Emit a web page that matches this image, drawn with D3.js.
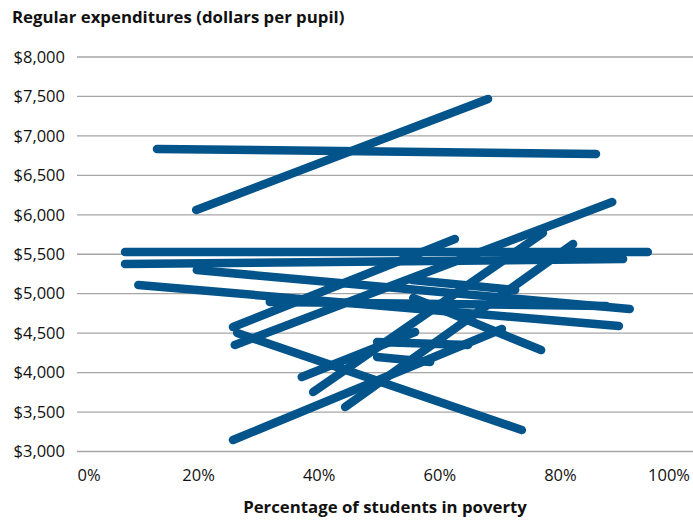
<!DOCTYPE html>
<html>
<head>
<meta charset="utf-8">
<script src="https://cdn.jsdelivr.net/npm/d3@7"></script>
<style>
  body { margin: 0; background: #fff; }
  text { font-family: "Open Sans", "Noto Sans", sans-serif; fill: #111; }
</style>
</head>
<body>
<div id="chart"></div>
<script>
// each segment: poverty % and spending at start and end
var startPct = [13.1, 19.6, 7.8, 7.8, 19.7, 10.0, 31.8, 25.7, 26.0, 26.4, 55.4, 55.6, 37.1, 39.0, 44.3, 49.6, 49.6, 25.7];
var startVal = [6834, 6061, 5529, 5376, 5300, 5110, 4895, 4578, 4350, 4502, 5174, 4945, 3944, 3754, 3564, 4388, 4198, 3146];
var endPct   = [85.9, 68.0, 94.5, 90.4, 91.5, 89.7, 87.6, 62.5, 88.6, 73.6, 72.5, 76.8, 55.9, 77.1, 82.1, 64.7, 58.4, 70.3];
var endVal   = [6771, 7468, 5529, 5440, 4806, 4590, 4844, 5693, 6162, 3272, 5047, 4286, 4515, 5769, 5630, 4350, 4134, 4553];

var yTicks = [3000, 3500, 4000, 4500, 5000, 5500, 6000, 6500, 7000, 7500, 8000];
var xTicks = [0, 20, 40, 60, 80, 100];

var width = 693, height = 522;

var svg = d3.select("#chart")
  .append("svg")
  .attr("width", width)
  .attr("height", height);

var x = d3.scaleLinear()
  .domain([0, 100])
  .range([78, 681]);

var y = d3.scaleLinear()
  .domain([3000, 8000])
  .range([451.5, 57]);

// gridlines
svg.selectAll(".grid")
  .data(yTicks)
  .enter()
  .append("line")
    .attr("x1", 77)
    .attr("x2", width)
    .attr("y1", function(d) { return y(d); })
    .attr("y2", function(d) { return y(d); })
    .attr("stroke", "#a6a6a6")
    .attr("stroke-width", 1.3);

// y labels
svg.selectAll(".ylab")
  .data(yTicks)
  .enter()
  .append("text")
    .attr("x", 65)
    .attr("y", function(d) { return y(d); })
    .attr("dy", "0.35em")
    .attr("text-anchor", "end")
    .style("font-size", "16.5px")
    .text(function(d) { return "$" + d3.format(",")(d); });

// x labels (end ones nudged in like the original)
svg.selectAll(".xlab")
  .data(xTicks)
  .enter()
  .append("text")
    .attr("x", function(d) {
      if (d == 0) return x(d) + 11;
      if (d == 100) return x(d) - 12;
      return x(d);
    })
    .attr("y", 481)
    .attr("text-anchor", "middle")
    .style("font-size", "16.5px")
    .text(function(d) { return d + "%"; });

// segments
var idx = d3.range(startPct.length);
svg.selectAll(".seg")
  .data(idx)
  .enter()
  .append("line")
    .attr("x1", function(i) { return x(startPct[i]); })
    .attr("y1", function(i) { return y(startVal[i]); })
    .attr("x2", function(i) { return x(endPct[i]); })
    .attr("y2", function(i) { return y(endVal[i]); })
    .attr("stroke", "#03548a")
    .attr("stroke-width", 8.5)
    .attr("stroke-linecap", "round");

// titles
svg.append("text")
  .attr("x", 12)
  .attr("y", 23)
  .style("font-size", "16.8px")
  .style("font-weight", "bold")
  .text("Regular expenditures (dollars per pupil)");

svg.append("text")
  .attr("x", 385)
  .attr("y", 513)
  .attr("text-anchor", "middle")
  .style("font-size", "16.8px")
  .style("font-weight", "bold")
  .text("Percentage of students in poverty");
</script>
</body>
</html>
